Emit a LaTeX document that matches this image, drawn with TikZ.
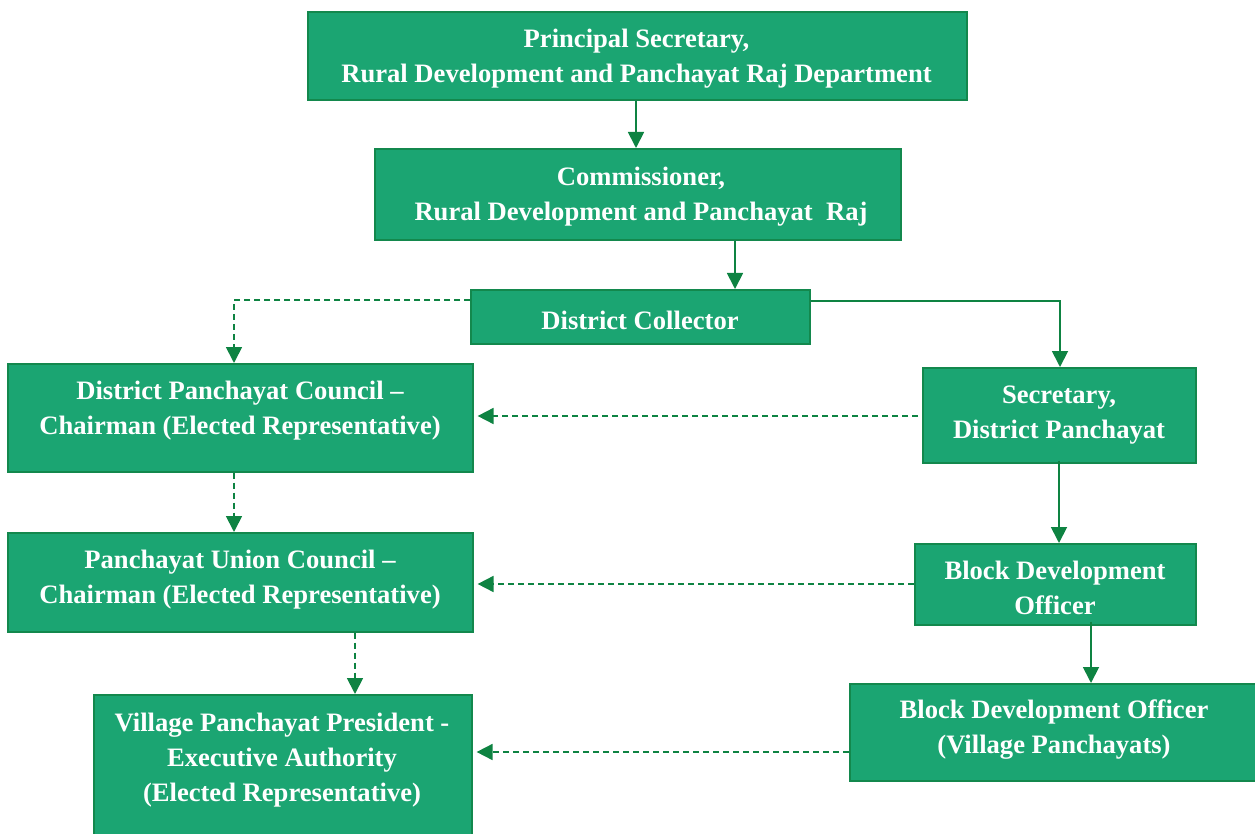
\documentclass[tikz,border=0pt]{standalone}
\usepackage{fontspec}
\setmainfont{Liberation Serif}
\usetikzlibrary{arrows.meta}
\definecolor{boxfill}{HTML}{1BA572}
\definecolor{boxline}{HTML}{13884D}
\definecolor{conn}{HTML}{0E8342}
\tikzset{
  box/.style={draw=boxline, line width=1.6pt, fill=boxfill, inner sep=0pt, anchor=north west},
  txt/.style={text=white, font=\fontsize{26.6}{35}\selectfont\bfseries, align=center, inner sep=0pt},
  solidc/.style={draw=conn, line width=1.8pt, -{Triangle[width=16pt,length=16pt]}},
  dashc/.style={solidc, dash pattern=on 6pt off 4pt},
}
\begin{document}
\begin{tikzpicture}[x=1pt,y=-1pt]
\useasboundingbox (0,0) rectangle (1255,834);
\begin{scope}
\clip (0,0) rectangle (1255,834);
% boxes
\node[box, minimum width=659pt, minimum height=88pt] (n1) at (307,11) {};
\node[box, minimum width=526pt, minimum height=91pt] (n2) at (374,148) {};
\node[box, minimum width=339pt, minimum height=54pt] (n3) at (470,289) {};
\node[box, minimum width=465pt, minimum height=108pt] (n4) at (7,363) {};
\node[box, minimum width=273pt, minimum height=95pt] (n5) at (922,367) {};
\node[box, minimum width=465pt, minimum height=99pt] (n6) at (7,532) {};
\node[box, minimum width=281pt, minimum height=81pt] (n7) at (914,543) {};
\node[box, minimum width=378pt, minimum height=150pt] (n8) at (93,694) {};
\node[box, minimum width=410pt, minimum height=97pt] (n9) at (849,683) {};
\end{scope}
% texts
\node[txt] (t1) at (636.5,59) {Principal Secretary,\\Rural Development and Panchayat Raj Department};
\node[txt] (t2) at (641,197) {Commissioner,\\Rural Development and Panchayat\ \ Raj};
\node[txt] (t3) at (640,320) {District Collector};
\node[txt] (t4) at (240,411) {District Panchayat Council –\\Chairman (Elected Representative)};
\node[txt] (t5) at (1059,415) {Secretary,\\District Panchayat};
\node[txt] (t6) at (240,580) {Panchayat Union Council –\\Chairman (Elected Representative)};
\node[txt] (t7) at (1055,588) {Block Development\\Officer};
\node[txt] (t8) at (282,760) {Village Panchayat President -\\Executive Authority\\(Elected Representative)};
\node[txt] (t9) at (1054,730) {Block Development Officer\\(Village Panchayats)};
% coordinates for elbows
\coordinate (c1) at (1060,301);
\coordinate (c2) at (234,300);
% connectors
\draw[solidc] (n1.south -| 636,0) -- (n2.north -| 636,0);
\draw[solidc] (n2.south -| 735,0) -- (n3.north -| 735,0);
\draw[solidc] (n3.east |- c1) -- (c1) -- (n5.north -| c1);
\draw[dashc] (n3.west |- c2) -- (c2) -- (n4.north -| c2);
\draw[dashc] ([xshift=-4pt]n5.west |- 0,416) -- ([xshift=4pt]n4.east |- 0,416);
\draw[dashc] (n4.south -| 234,0) -- (n6.north -| 234,0);
\draw[solidc] ([yshift=3pt]n5.south -| 1059,0) -- (n7.north -| 1059,0);
\draw[dashc] (n7.west |- 0,584) -- ([xshift=4pt]n6.east |- 0,584);
\draw[dashc] (n6.south -| 355,0) -- (n8.north -| 355,0);
\draw[solidc] ([yshift=4pt]n7.south -| 1091,0) -- (n9.north -| 1091,0);
\draw[dashc] (n9.west |- 0,752) -- ([xshift=4pt]n8.east |- 0,752);
\end{tikzpicture}
\end{document}
